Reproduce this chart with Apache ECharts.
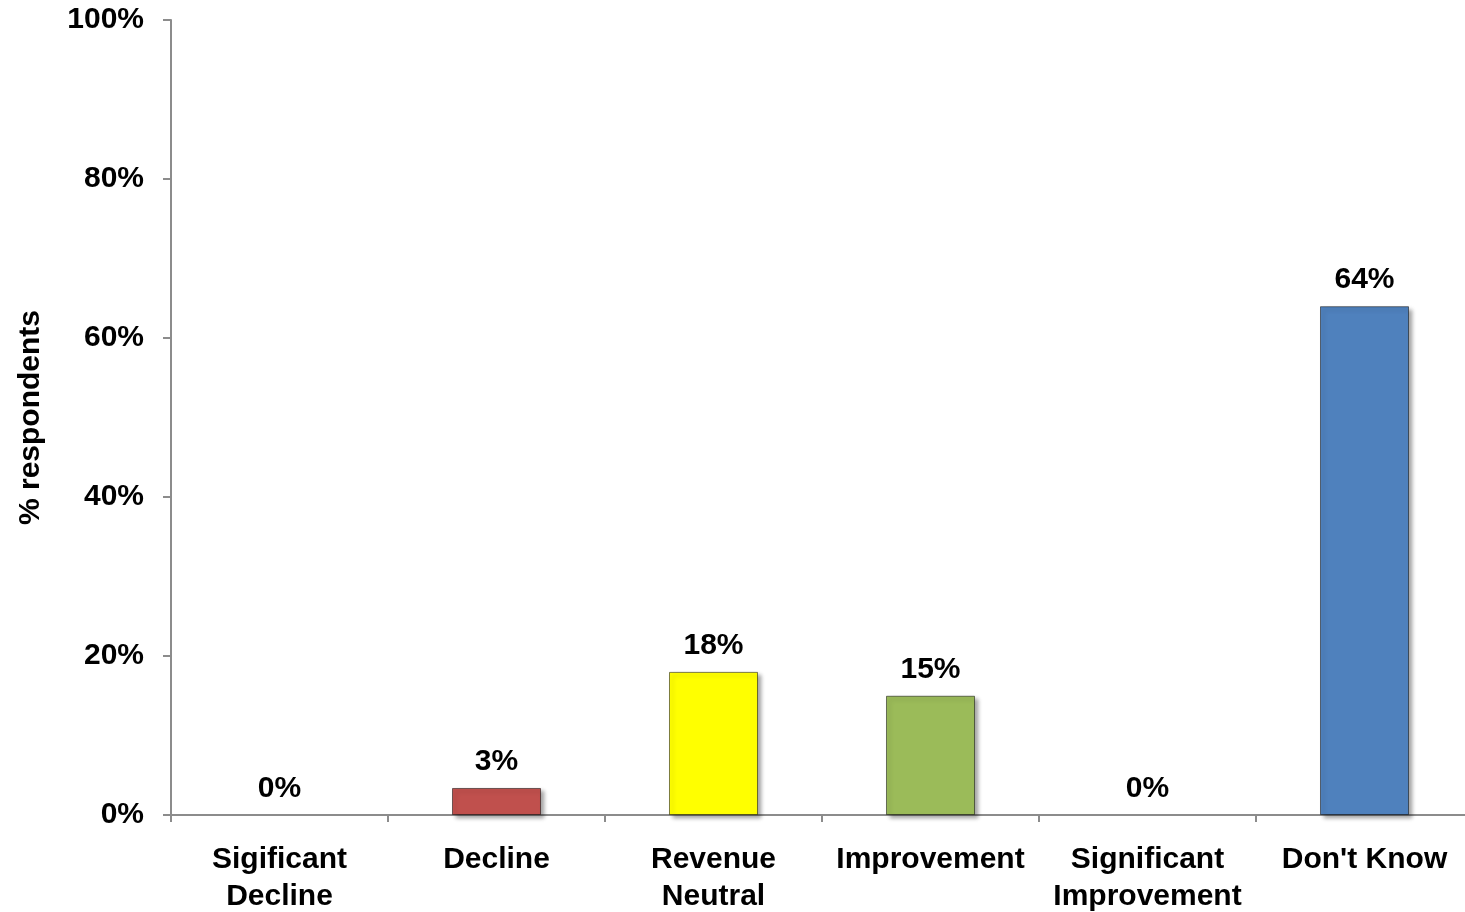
<!DOCTYPE html>
<html>
<head>
<meta charset="utf-8">
<script src="https://cdn.jsdelivr.net/npm/echarts@6/dist/echarts.min.js"></script>
<style>
html,body{margin:0;padding:0;background:#fff;overflow:hidden;}
#chart{width:1465px;height:912px;}
</style>
</head>
<body>
<div id="chart"></div>
<script>
const categories = ["Sigificant\nDecline", "Decline", "Revenue\nNeutral", "Improvement", "Significant\nImprovement", "Don't Know"];
const values = [0, 3.4, 18, 15, 0, 64];
const barColors = ["#C0504D", "#C0504D", "#FFFF00", "#9BBB59", "#4F81BD", "#4F81BD"];
const yTicks = [0, 20, 40, 60, 80, 100];
const yAxisTitle = "% respondents";

const FONT = "'Liberation Sans', Arial, sans-serif";
const chart = echarts.init(document.getElementById('chart'), null, {renderer: 'canvas'});
chart.setOption({
  animation: false,
  backgroundColor: '#fff',
  grid: {left: 171, top: 20, width: 1302, height: 795, containLabel: false, outerBoundsMode: 'none'},
  xAxis: {
    type: 'category',
    data: categories,
    axisLine: {lineStyle: {color: '#8c8c8c', width: 2}},
    axisTick: {show: true, length: 7, alignWithLabel: false, lineStyle: {color: '#8c8c8c', width: 2}},
    axisLabel: {
      interval: 0, margin: 26, color: '#000',
      fontFamily: FONT, fontWeight: 'bold', fontSize: 30, lineHeight: 37
    }
  },
  yAxis: {
    type: 'value',
    min: 0, max: 100, interval: 20,
    name: yAxisTitle,
    nameLocation: 'middle',
    nameGap: 125,
    nameRotate: 90,
    nameTextStyle: {color: '#000', fontFamily: FONT, fontWeight: 'bold', fontSize: 30},
    splitLine: {show: false},
    axisLine: {show: true, lineStyle: {color: '#8c8c8c', width: 2}},
    axisTick: {show: true, length: 8, lineStyle: {color: '#8c8c8c', width: 2}},
    axisLabel: {
      margin: 27, color: '#000',
      fontFamily: FONT, fontWeight: 'bold', fontSize: 30,
      formatter: v => yTicks.includes(v) ? v + '%' : ''
    }
  },
  series: [{
    type: 'bar',
    barWidth: 89,
    data: values.map((v, i) => ({
      value: v,
      itemStyle: v === 0 ? {color: 'rgba(0,0,0,0)', borderWidth: 0} : {
        color: barColors[i],
        borderColor: 'rgba(0,0,0,0.5)',
        borderWidth: 1,
        shadowColor: 'rgba(0,0,0,0.35)',
        shadowBlur: 4,
        shadowOffsetX: 3,
        shadowOffsetY: 3
      }
    })),
    label: {
      show: true,
      position: 'top',
      distance: 11,
      color: '#000',
      fontFamily: FONT, fontWeight: 'bold', fontSize: 30,
      formatter: p => Math.round(p.value) + '%'
    }
  }]
});
</script>
</body>
</html>
